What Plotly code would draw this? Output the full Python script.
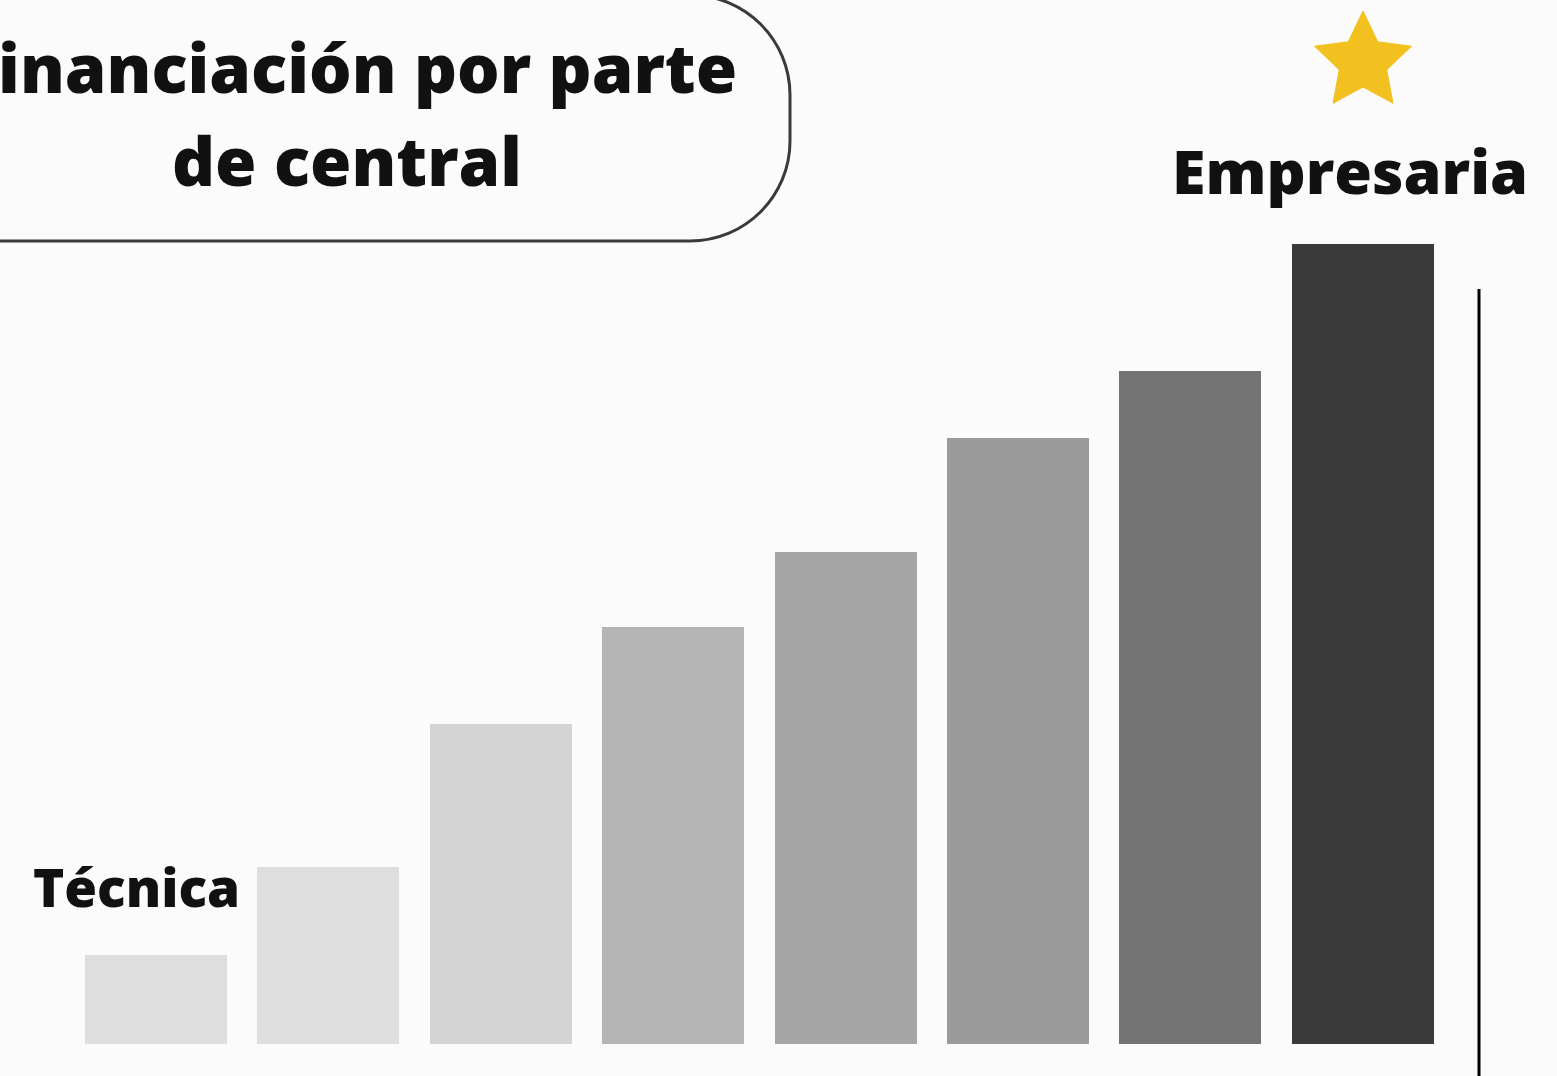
import numpy as np
import plotly.graph_objects as go

W, H = 1557, 1076

# ---- data ----
categories = ["Técnica", "N2", "N3", "N4", "N5", "N6", "N7", "Empresaria"]
values = [8.9, 17.7, 32.0, 41.7, 49.2, 60.6, 67.3, 80.0]
bar_colors = ["#DEDEDE", "#DEDEDE", "#D4D4D4", "#B5B5B5",
              "#A5A5A5", "#9A9A9A", "#737373", "#3A3A3A"]
title_lines = ["Financiación por parte", "de central"]
low_label = "Técnica"
high_label = "Empresaria"

BG = "#FBFBFB"
FONT = "Open Sans"

def px(x):
    return x / W

def py(y):
    return 1 - y / H

fig = go.Figure()
fig.add_trace(go.Bar(
    x=list(range(len(categories))),
    y=values,
    marker=dict(color=bar_colors, line=dict(width=0)),
    width=0.824,
    hoverinfo="skip",
    showlegend=False,
))

shapes = []
# rounded title box (partially off-canvas at left/top)
r = 100
cx, top, bot, right = 690, -5, 241, 790
k = 0.5523 * r
path = (f"M {px(-20)},{py(bot)} L {px(cx)},{py(bot)} "
        f"C {px(cx + k)},{py(bot)} {px(right)},{py(bot - r + k)} {px(right)},{py(bot - r)} "
        f"L {px(right)},{py(top + r)} "
        f"C {px(right)},{py(top + r - k)} {px(cx + k)},{py(top)} {px(cx)},{py(top)} "
        f"L {px(-20)},{py(top)}")
shapes.append(dict(type="path", xref="paper", yref="paper", path=path,
                   line=dict(color="#3A3A3A", width=3), fillcolor="rgba(0,0,0,0)",
                   layer="above"))

# vertical line at right
shapes.append(dict(type="line", xref="paper", yref="paper",
                   x0=px(1479), x1=px(1479), y0=py(289), y1=py(1080),
                   line=dict(color="#000000", width=3)))

# star
scx, scy, R = 1363, 62, 51
rin = R * 0.49
pts = []
for i in range(10):
    ang = -np.pi / 2 + i * np.pi / 5
    rr = R if i % 2 == 0 else rin
    pts.append((scx + rr * np.cos(ang), scy + rr * np.sin(ang)))
star_path = "M " + " L ".join(f"{px(a)},{py(b)}" for a, b in pts) + " Z"
shapes.append(dict(type="path", xref="paper", yref="paper", path=star_path,
                   fillcolor="#F2C11F", line=dict(color="#F2C11F", width=1),
                   layer="above"))

annotations = [
    dict(text=title_lines[0], x=px(349), y=py(67), xref="paper", yref="paper",
         showarrow=False, xanchor="center", yanchor="middle",
         font=dict(family=FONT, size=67, color="#111111", weight=800)),
    dict(text=title_lines[1], x=px(347), y=py(160), xref="paper", yref="paper",
         showarrow=False, xanchor="center", yanchor="middle",
         font=dict(family=FONT, size=67, color="#111111", weight=800)),
    dict(text=low_label, x=px(136), y=py(886), xref="paper", yref="paper",
         showarrow=False, xanchor="center", yanchor="middle",
         font=dict(family=FONT, size=53, color="#111111", weight=800)),
    dict(text=high_label, x=px(1350), y=py(170), xref="paper", yref="paper",
         showarrow=False, xanchor="center", yanchor="middle",
         font=dict(family=FONT, size=61, color="#111111", weight=800)),
]

fig.update_layout(
    width=W, height=H,
    margin=dict(l=0, r=0, t=0, b=0, pad=0),
    paper_bgcolor=BG, plot_bgcolor=BG,
    xaxis=dict(range=[-156 / 172.4, -156 / 172.4 + W / 172.4], visible=False,
               fixedrange=True),
    yaxis=dict(range=[-3.2, 104.4], visible=False, fixedrange=True),
    shapes=shapes,
    annotations=annotations,
    bargap=0,
)

fig.write_html("out.html", config=dict(displayModeBar=False),
               post_script="document.body.style.margin='0px';document.body.style.overflow='hidden';")
